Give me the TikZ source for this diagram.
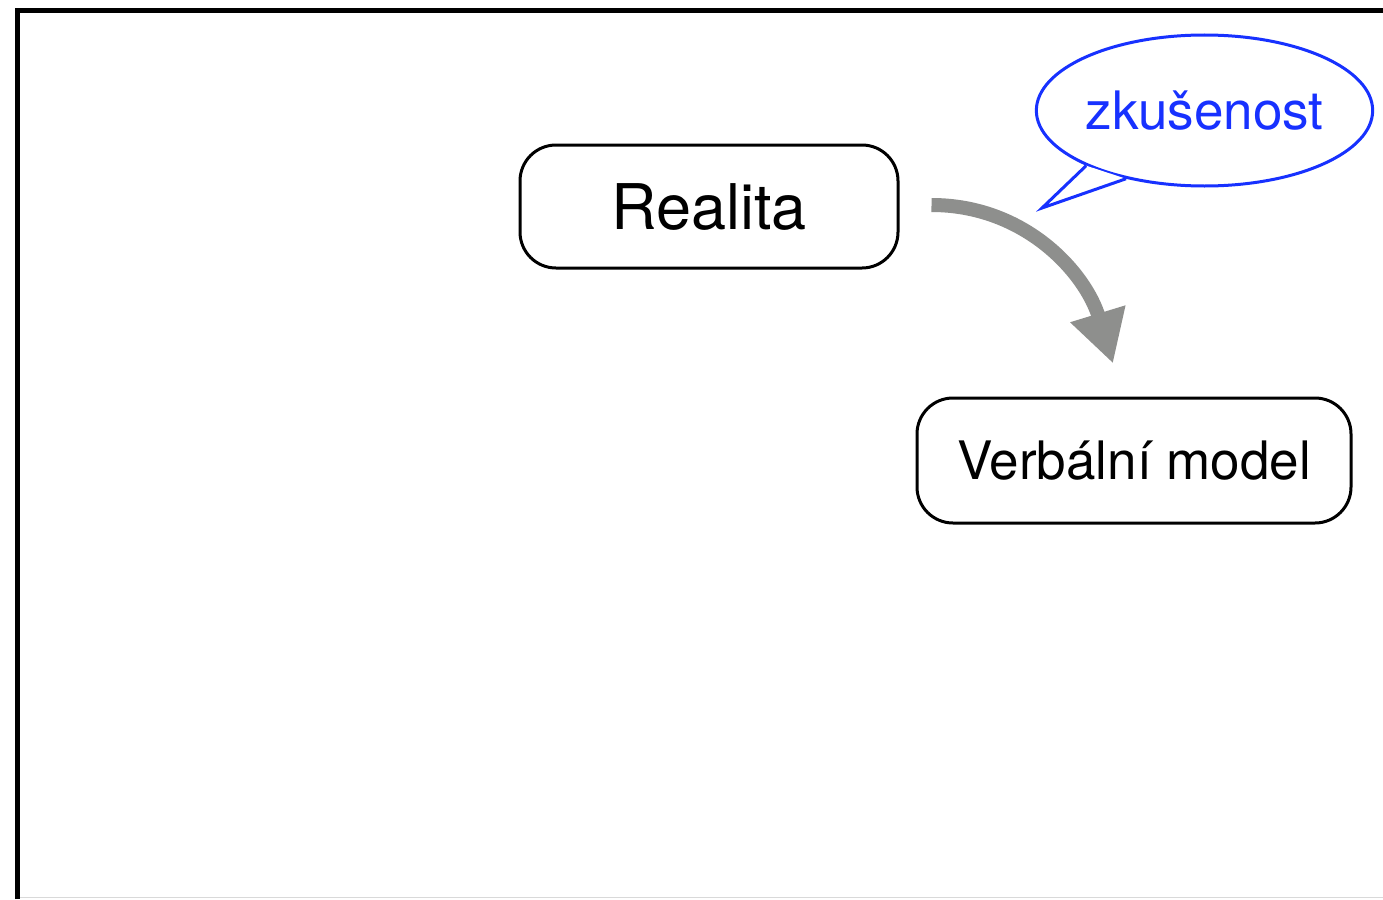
\documentclass[tikz,border=0pt]{standalone}
\usepackage{fontspec}
\setmainfont{TeX Gyre Heros}
\usetikzlibrary{shapes.geometric,arrows.meta}
\definecolor{bubbleblue}{RGB}{23,49,255}
\definecolor{flowgray}{RGB}{142,143,141}
\tikzset{box/.style={draw,line width=3pt,rounded corners=36pt,inner sep=0pt,
        text depth=0pt},
    bubble/.style={ellipse,draw=bubbleblue,line width=3pt,fill=white,inner sep=0pt,
        text=bubbleblue,text depth=0pt},
    flow/.style={draw=flowgray,line width=14pt,
        -{Triangle[length=52pt,width=54pt]}}}

\begin{document}
\begin{tikzpicture}[x=1pt,y=-1pt]
\useasboundingbox (0,0) rectangle (1383,899);
\fill[white] (0,0) rectangle (1383,899);
% frame
\draw[black!15,line width=1.5pt] (17.5,897.5) -- (1383,897.5);
\draw[line width=5pt] (17.5,899) -- (17.5,10.5) -- (1383,10.5);
% nodes
\node[box,minimum width=378pt,minimum height=123pt,text height=45pt,
    font=\fontsize{63}{70}\selectfont] (real) at (709,206.5) {Realita};
\node[box,minimum width=434pt,minimum height=125pt,text height=38pt,
    font=\fontsize{53}{60}\selectfont] (verb) at (1134,460.5) {Verbální model};
\node[bubble,minimum width=331pt,minimum height=151pt,text height=38pt,
    font=\fontsize{53}{60}\selectfont] (zk) at (1204.5,110.5) {zkušenost};
\coordinate (tip) at (1042,208);
\filldraw[bubbleblue,fill=white,line width=3pt,line join=miter]
    (zk.205) -- (tip) -- (zk.221);
% arrow
\draw[flow] ([xshift=32pt,yshift=1.5pt]real.east) to[out=0,in=107]
    ([xshift=-21pt,yshift=33pt]verb.north);
\end{tikzpicture}
\end{document}
